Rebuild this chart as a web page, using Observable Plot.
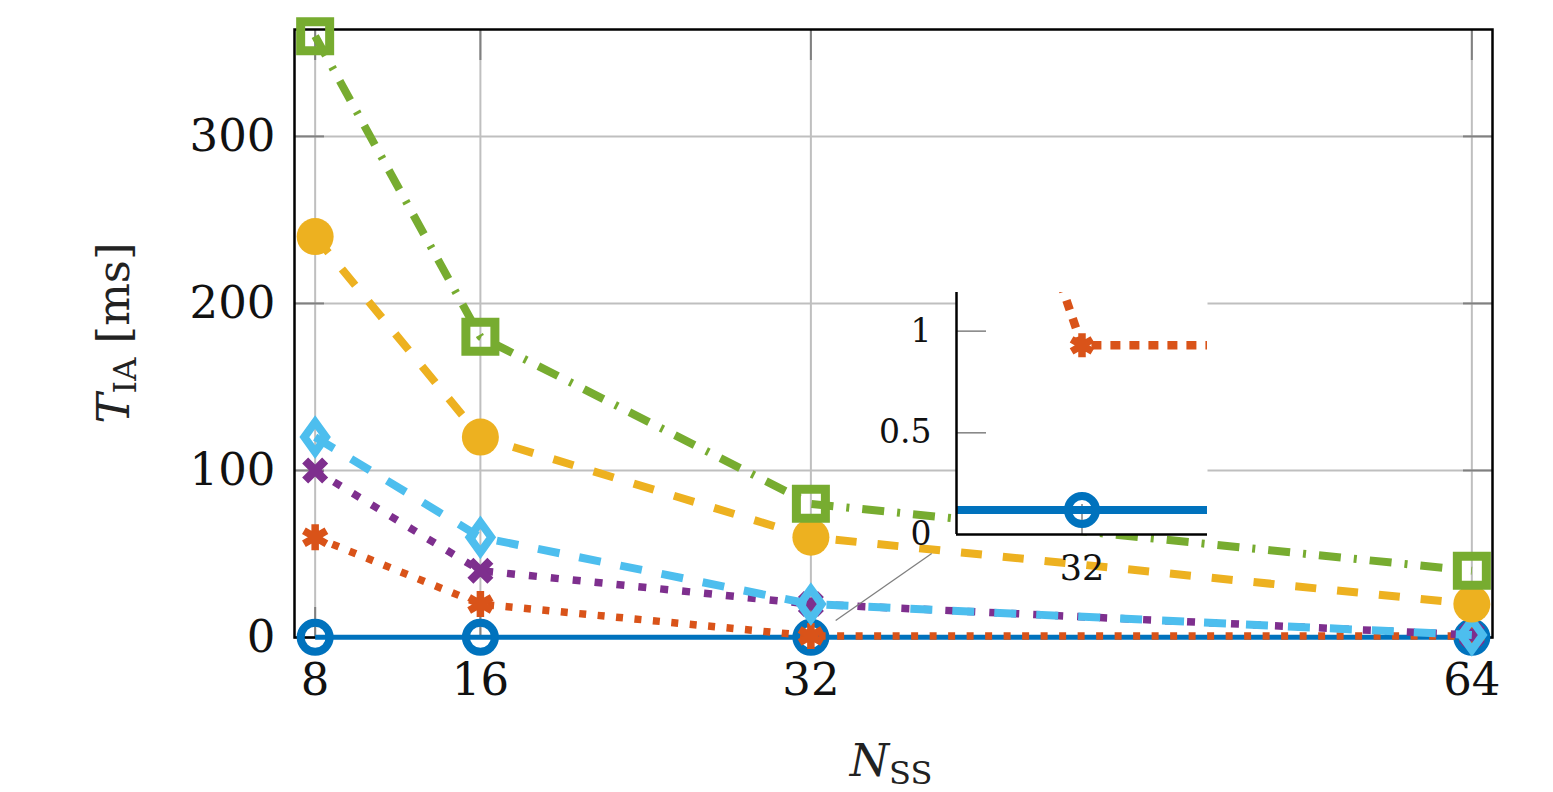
<!DOCTYPE html>
<html><head><meta charset="utf-8">
<script src="https://cdn.jsdelivr.net/npm/d3@7"></script>
<script src="https://cdn.jsdelivr.net/npm/@observablehq/plot@0.6"></script>
<style>
html,body{margin:0;padding:0;background:#fff;}
#wrap{position:relative;width:1553px;height:792px;}
#inset{position:absolute;left:850px;top:270px;}
</style></head><body>
<div id="wrap"><div id="main"></div><div id="inset"></div></div>
<script>
// ---- data ----
const nss = [8, 16, 32, 64];
const xTicks = [8, 16, 32, 64];
const yTicks = [0, 100, 200, 300];
const insetYTicks = [0, 0.5, 1];
const insetInnerYTicks = [0.5, 1];
const insetXTicks = [32];
const tBlue = [0.12, 0.12, 0.12, 0.12];
const tOrange = [60, 20, 0.93, 0.93];
const tPurple = [100, 40, 20, 1.5];
const tLightBlue = [120, 60, 20, 1.5];
const tYellow = [240, 120, 60, 20];
const tGreen = [360, 180, 80, 40];
const xDomain = [7, 65];
const yDomain = [0, 364];
const insetXDomain = [30.5, 33.5];
const insetYDomain = [0, 1.19];
const connectorFrom = [33.2, 10.2];
const connectorTo = [37.85, 50.3];

// ---- symbols ----
const rad = s => Math.sqrt(s / Math.PI);
const symSquare = {draw(c, s) { const r = rad(s); c.moveTo(-r, -r); c.lineTo(r, -r); c.lineTo(r, r); c.lineTo(-r, r); c.closePath(); }};
const symDiamond = {draw(c, s) { const r = rad(s), w = r * 0.72; c.moveTo(0, -r); c.lineTo(w, 0); c.lineTo(0, r); c.lineTo(-w, 0); c.closePath(); }};
const symCross = {draw(c, s) { const r = rad(s); c.moveTo(-r, -r); c.lineTo(r, r); c.moveTo(r, -r); c.lineTo(-r, r); }};
const symAst = {draw(c, s) { const r = rad(s); for (const a of [90, 30, 150]) { const t = a * Math.PI / 180, dx = r * Math.cos(t), dy = r * Math.sin(t); c.moveTo(dx, -dy); c.lineTo(-dx, dy); } }};
const symCircle = {draw(c, s) { const r = rad(s); c.moveTo(r, 0); c.arc(0, 0, r, 0, 2 * Math.PI); }};

const series = [
  {values: tBlue, color: "#0072BD", dash: null, width: 5, symbol: symCircle, r: 14.5, filled: false, sw: 8},
  {values: tOrange, color: "#D95319", dash: "7,11.5", width: 7.5, symbol: symAst, r: 13, filled: false, sw: 7.5},
  {values: tPurple, color: "#7E2F8E", dash: "8,14", width: 7.5, symbol: symCross, r: 10, filled: false, sw: 8.5},
  {values: tLightBlue, color: "#4DBEEE", dash: "22,20", width: 8, symbol: symDiamond, r: 15, filled: false, sw: 8},
  {values: tYellow, color: "#EDB120", dash: "21,21", width: 8, symbol: symCircle, r: 18.5, filled: true, sw: 0},
  {values: tGreen, color: "#77AC30", dash: "22,13,3,13", width: 8, symbol: symSquare, r: 14.5, filled: false, sw: 9}
];
const rowsOf = s => s.values.map((v, i) => ({x: nss[i], y: v}));

function seriesMarks(s, clip) {
  const rows = rowsOf(s);
  return [
    Plot.line(rows, {x: "x", y: "y", stroke: s.color, strokeWidth: s.width,
      strokeDasharray: s.dash, strokeLinecap: "butt", strokeLinejoin: "miter", clip}),
    Plot.dot(rows, {x: "x", y: "y", symbol: s.symbol, r: s.r,
      fill: s.filled ? s.color : "none", stroke: s.filled ? "none" : s.color,
      strokeWidth: s.sw, strokeLinejoin: "miter", strokeLinecap: "butt", clip})
  ];
}

const FONT = "DejaVu Serif";
const gridStyle = {stroke: "#bfbfbf", strokeOpacity: 1, strokeWidth: 2};
const innerTick = {tickSize: -30, stroke: "#808080", strokeWidth: 2, tickFormat: () => null, label: null};
const plainFmt = d => String(d);

const main = Plot.plot({
  width: 1553, height: 792,
  marginLeft: 294, marginRight: 61, marginTop: 29, marginBottom: 155,
  x: {domain: xDomain}, y: {domain: yDomain},
  style: {fontFamily: FONT, fontSize: "45px", background: "white", overflow: "visible"},
  marks: [
    Plot.gridX({ticks: xTicks, ...gridStyle}),
    Plot.gridY({ticks: yTicks, ...gridStyle}),
    Plot.axisX({ticks: xTicks, anchor: "bottom", ...innerTick}),
    Plot.axisX({ticks: xTicks, anchor: "top", ...innerTick}),
    Plot.axisY({ticks: yTicks, anchor: "left", ...innerTick}),
    Plot.axisY({ticks: yTicks, anchor: "right", ...innerTick}),
    Plot.axisX({ticks: xTicks, anchor: "bottom", tickSize: 0, tickPadding: 26, fontSize: 45, tickFormat: plainFmt, label: null, fill: "#111"}),
    Plot.axisY({ticks: yTicks, anchor: "left", tickSize: 0, tickPadding: 19, fontSize: 45, tickFormat: plainFmt, label: null, fill: "#111"}),
    Plot.frame({stroke: "black", strokeWidth: 2.5}),
    ...series.flatMap(s => seriesMarks(s, false)),
    Plot.link([{a: connectorFrom, b: connectorTo}], {x1: d => d.a[0], y1: d => d.a[1], x2: d => d.b[0], y2: d => d.b[1], stroke: "#7f7f7f", strokeWidth: 1.3})
  ]
});
document.getElementById("main").appendChild(main);

// axis titles with sub-scripts
const msvg = d3.select(main);
const yl = msvg.append("text").attr("transform", "translate(129,333) rotate(-90)")
  .attr("text-anchor", "middle").attr("font-family", FONT).attr("font-size", 45).attr("fill", "#222");
yl.append("tspan").attr("font-style", "italic").text("T");
yl.append("tspan").attr("font-size", 32).attr("dy", 7).text("IA");
yl.append("tspan").attr("dy", -7).text(" [ms]");
const xl = msvg.append("text").attr("transform", "translate(891,776)")
  .attr("text-anchor", "middle").attr("font-family", FONT).attr("font-size", 45).attr("fill", "#222");
xl.append("tspan").attr("font-style", "italic").text("N");
xl.append("tspan").attr("font-size", 32).attr("dy", 8).text("SS");

// ---- inset ----
const insetSeries = [
  {...series[0], width: 8, r: 14, sw: 8},
  {...series[1], width: 8.5, dash: "10,9", r: 12, sw: 7.5},
  series[2], series[3], series[4], series[5]
];
const inset = Plot.plot({
  width: 380, height: 330,
  marginLeft: 106, marginRight: 23, marginTop: 22, marginBottom: 66,
  x: {domain: insetXDomain}, y: {domain: insetYDomain},
  style: {fontFamily: FONT, fontSize: "33px", background: "transparent", overflow: "visible"},
  marks: [
    Plot.frame({fill: "white", stroke: null}),
    Plot.axisY({ticks: insetInnerYTicks, anchor: "left", ...innerTick, strokeWidth: 1.5}),
    Plot.axisX({ticks: insetXTicks, anchor: "bottom", ...innerTick, strokeWidth: 1.5}),
    Plot.axisY({ticks: insetYTicks, anchor: "left", tickSize: 0, tickPadding: 25, fontSize: 33, tickFormat: plainFmt, label: null, fill: "#111"}),
    Plot.axisX({ticks: insetXTicks, anchor: "bottom", tickSize: 0, tickPadding: 21, fontSize: 35, tickFormat: plainFmt, label: null, fill: "#111"}),
    ...insetSeries.flatMap(s => seriesMarks(s, true)),
    Plot.ruleX([insetXDomain[0]], {stroke: "black", strokeWidth: 2.5}),
    Plot.ruleY([insetYDomain[0]], {stroke: "black", strokeWidth: 2.5})
  ]
});
document.getElementById("inset").appendChild(inset);
</script>
</body></html>
